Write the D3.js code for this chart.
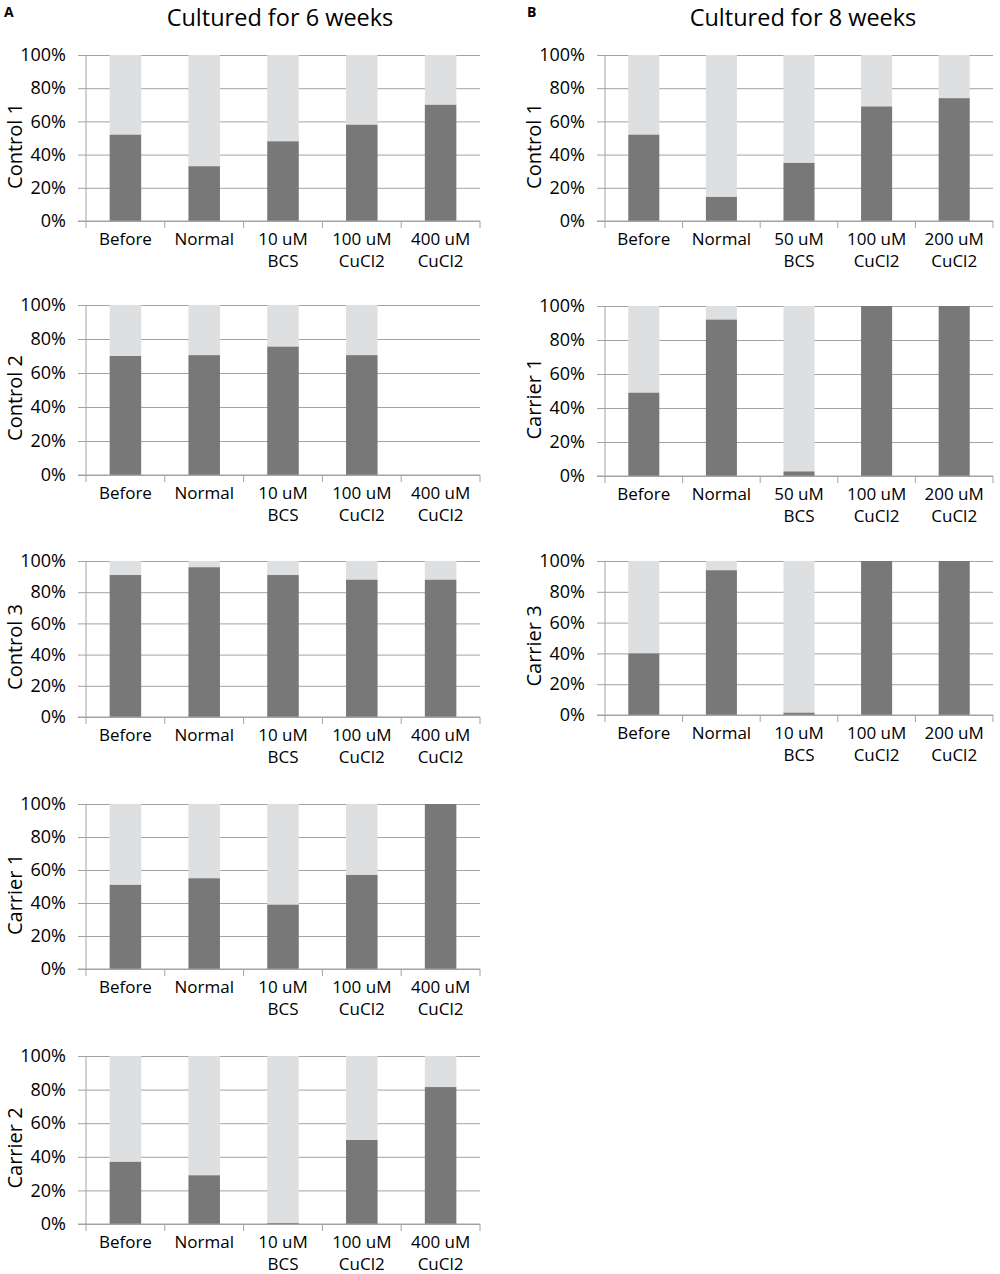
<!DOCTYPE html>
<html>
<head>
<meta charset="utf-8">
<script src="https://cdn.jsdelivr.net/npm/d3@7"></script>
<style>
  body { margin: 0; background: #fff; }
  svg { font-family: 'Open Sans', 'Liberation Sans', sans-serif; }
</style>
</head>
<body>
<div id="chart"></div>
<script>
// category labels (second line after "|")
const cats6w = ['Before', 'Normal', '10 uM|BCS', '100 uM|CuCl2', '400 uM|CuCl2']
const cats8w = ['Before', 'Normal', '50 uM|BCS', '100 uM|CuCl2', '200 uM|CuCl2']
const cats8wCarrier3 = ['Before', 'Normal', '10 uM|BCS', '100 uM|CuCl2', '200 uM|CuCl2']
const yTicks = [0, 20, 40, 60, 80, 100]

// dark segment (%), light segment is the rest up to 100; null = no bar
const control1_6w = [52, 33, 48, 58, 70]
const control2_6w = [70, 70.5, 75.5, 70.5, null]
const control3_6w = [91, 96, 91, 88, 88]
const carrier1_6w = [51, 55, 39, 57, 100]
const carrier2_6w = [37, 29, 0.6, 50, 81.5]
const control1_8w = [52, 14.5, 35, 69, 74]
const carrier1_8w = [49, 92, 2.7, 100, 100]
const carrier3_8w = [40, 94, 1.5, 100, 100]

const width = 1000
const height = 1274
const darkColor = '#787878'
const lightColor = '#dedfe1'
const gridColor = '#a3a3a3'
const textColor = '#000'

const svg = d3
  .select('#chart')
  .append('svg')
  .attr('width', width)
  .attr('height', height)

// panel boxes: left/right x of the plot, top (100%) / bottom (0%) y
const panels = [
  { name: 'Control 1', cats: cats6w, vals: control1_6w, x0: 86, x1: 480, top: 55, bottom: 221 },
  { name: 'Control 2', cats: cats6w, vals: control2_6w, x0: 86, x1: 480, top: 305, bottom: 475 },
  { name: 'Control 3', cats: cats6w, vals: control3_6w, x0: 86, x1: 480, top: 561, bottom: 717 },
  { name: 'Carrier 1', cats: cats6w, vals: carrier1_6w, x0: 86, x1: 480, top: 804, bottom: 969 },
  { name: 'Carrier 2', cats: cats6w, vals: carrier2_6w, x0: 86, x1: 480, top: 1056, bottom: 1224 },
  { name: 'Control 1', cats: cats8w, vals: control1_8w, x0: 605, x1: 993, top: 55, bottom: 221 },
  { name: 'Carrier 1', cats: cats8w, vals: carrier1_8w, x0: 605, x1: 993, top: 306, bottom: 476 },
  { name: 'Carrier 3', cats: cats8wCarrier3, vals: carrier3_8w, x0: 605, x1: 993, top: 561, bottom: 715 },
]

// column headings
svg.append('text').attr('x', 4).attr('y', 17).style('font-size', '14px').style('font-weight', 'bold').text('A')
svg.append('text').attr('x', 527).attr('y', 17).style('font-size', '14px').style('font-weight', 'bold').text('B')
svg.append('text').attr('x', 280).attr('y', 26).attr('text-anchor', 'middle')
  .style('font-size', '23.5px').attr('fill', textColor).text('Cultured for 6 weeks')
svg.append('text').attr('x', 803).attr('y', 26).attr('text-anchor', 'middle')
  .style('font-size', '23.5px').attr('fill', textColor).text('Cultured for 8 weeks')

panels.forEach((p) => {
  const g = svg.append('g')

  const x = d3.scaleBand().domain(p.cats).range([p.x0, p.x1]).paddingInner(0.6).paddingOuter(0.3)
  const y = d3.scaleLinear().domain([0, 100]).range([p.bottom, p.top])

  // gridlines + y tick labels
  const yAxis = d3
    .axisLeft(y)
    .tickValues(yTicks)
    .tickSize(-(p.x1 - p.x0))
    .tickPadding(20)
    .tickFormat((d) => d + '%')
  const yG = g.append('g').attr('transform', `translate(${p.x0},0)`).call(yAxis)
  yG.select('.domain').remove()
  yG.selectAll('.tick line').attr('stroke', gridColor).attr('x1', -8)
  yG.selectAll('.tick text').style('font-size', '18px').attr('fill', textColor)
    .attr('font-family', "'Open Sans', sans-serif")

  // vertical axis line
  g.append('line')
    .attr('x1', p.x0).attr('x2', p.x0)
    .attr('y1', p.top).attr('y2', p.bottom)
    .attr('stroke', gridColor)

  // category boundary ticks under the axis
  const bounds = p.cats.map((c) => x(c) - (x.step() - x.bandwidth()) / 2).concat([p.x1])
  g.selectAll('line.cat-tick')
    .data(bounds)
    .join('line')
    .attr('class', 'cat-tick')
    .attr('x1', (d) => d).attr('x2', (d) => d)
    .attr('y1', p.bottom).attr('y2', p.bottom + 7)
    .attr('stroke', gridColor)

  // bars: light (rest) then dark on top
  const rows = p.cats.map((c, i) => ({ c, v: p.vals[i] })).filter((d) => d.v !== null)
  g.selectAll('rect.light')
    .data(rows)
    .join('rect')
    .attr('class', 'light')
    .attr('x', (d) => x(d.c))
    .attr('width', x.bandwidth())
    .attr('y', y(100))
    .attr('height', (d) => y(d.v) - y(100))
    .attr('fill', lightColor)
  g.selectAll('rect.dark')
    .data(rows)
    .join('rect')
    .attr('class', 'dark')
    .attr('x', (d) => x(d.c))
    .attr('width', x.bandwidth())
    .attr('y', (d) => y(d.v))
    .attr('height', (d) => y(0) - y(d.v))
    .attr('fill', darkColor)

  // axis line at 0%
  g.append('line')
    .attr('x1', p.x0 - 8).attr('x2', p.x1)
    .attr('y1', p.bottom).attr('y2', p.bottom)
    .attr('stroke', gridColor)

  // category labels
  const labels = g.selectAll('text.cat')
    .data(p.cats)
    .join('text')
    .attr('class', 'cat')
    .attr('text-anchor', 'middle')
    .style('font-size', '17px')
    .attr('fill', textColor)
  labels.each(function (c) {
    const parts = c.split('|')
    parts.forEach((t, i) => {
      d3.select(this)
        .append('tspan')
        .attr('x', x(c) + x.bandwidth() / 2)
        .attr('y', p.bottom + 24 + i * 22)
        .text(t)
    })
  })

  // y axis title
  g.append('text')
    .attr('transform', `translate(${p.x0 - 64},${(p.top + p.bottom) / 2 + 8}) rotate(-90)`)
    .attr('text-anchor', 'middle')
    .style('font-size', '20px')
    .attr('fill', textColor)
    .text(p.name)
})
</script>
</body>
</html>
